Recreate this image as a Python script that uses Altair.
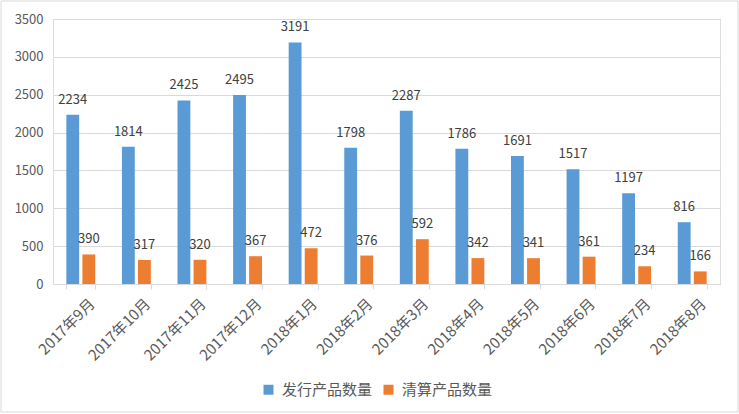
import altair as alt
import pandas as pd

months = ["2017年9月", "2017年10月", "2017年11月", "2017年12月", "2018年1月", "2018年2月",
          "2018年3月", "2018年4月", "2018年5月", "2018年6月", "2018年7月", "2018年8月"]
issued = [2234, 1814, 2425, 2495, 3191, 1798, 2287, 1786, 1691, 1517, 1197, 816]
cleared = [390, 317, 320, 367, 472, 376, 592, 342, 341, 361, 234, 166]
series = ["发行产品数量", "清算产品数量"]
colors = ["#5B9BD5", "#ED7D31"]
y_ticks = [0, 500, 1000, 1500, 2000, 2500, 3000, 3500]

rows = []
for m, a, b in zip(months, issued, cleared):
    rows.append({"month": m, "series": series[0], "value": a})
    rows.append({"month": m, "series": series[1], "value": b})
df = pd.DataFrame(rows)

FONT = "Noto Sans CJK SC"
W, H = 667, 265

x_enc = alt.X("month:N", sort=months,
              scale=alt.Scale(paddingInner=0.48, paddingOuter=0.24),
              axis=alt.Axis(title=None, labelAngle=-45, tickBand="extent",
                            domainColor="#d9d9d9", tickColor="#d9d9d9", tickSize=5,
                            labelColor="#595959", labelFontSize=15, labelFont=FONT,
                            labelPadding=7, labelOffset=6, grid=False))
xo_enc = alt.XOffset("series:N", sort=series, scale=alt.Scale(paddingInner=0.2))
y_enc = alt.Y("value:Q", scale=alt.Scale(domain=[0, 3500]),
              axis=alt.Axis(title=None, values=y_ticks, format="d", domain=False, ticks=False,
                            gridColor="#d9d9d9", labelColor="#595959", labelFontSize=13,
                            labelFont=FONT, labelPadding=10))

base = alt.Chart(df).encode(x=x_enc, xOffset=xo_enc, y=y_enc)

bars = base.mark_bar().encode(
    color=alt.Color("series:N", sort=series,
                    scale=alt.Scale(domain=series, range=colors),
                    legend=alt.Legend(title=None, orient="none", direction="horizontal",
                                      legendX=208, legendY=363, symbolType="square",
                                      symbolSize=100, symbolStrokeWidth=0,
                                      labelFontSize=15, labelColor="#595959",
                                      labelFont=FONT, columnPadding=8, labelOffset=6))
)
labels = base.mark_text(baseline="bottom", dy=-8, fontSize=13, color="#404040",
                        font=FONT).encode(text="value:Q")

frame = alt.Chart(pd.DataFrame({"k": [0]})).mark_rect(
    fill=None, stroke="#d9d9d9", strokeWidth=1
).encode(x=alt.value(-52), x2=alt.value(W + 18), y=alt.value(-18), y2=alt.value(H + 128))

chart = alt.layer(frame, bars, labels).properties(
    width=W, height=H,
    autosize=alt.AutoSizeParams(type="none"),
    padding={"left": 53, "top": 19, "right": 19, "bottom": 130},
).configure_view(stroke=None).configure(background="white")

chart.save("out.html", embed_options={"renderer": "svg", "actions": False})
